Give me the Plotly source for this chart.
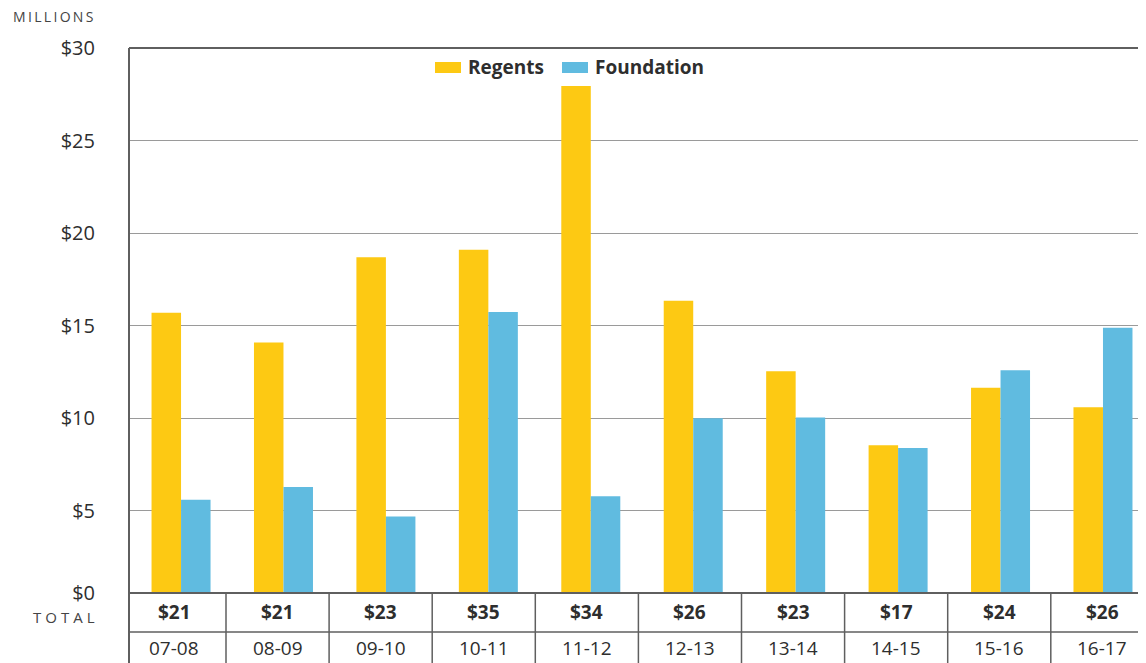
import plotly.graph_objects as go

# ---- data ----
years = ["07-08", "08-09", "09-10", "10-11", "11-12", "12-13", "13-14", "14-15", "15-16", "16-17"]
regents = [15.7, 14.1, 18.7, 19.1, 27.95, 16.35, 12.55, 8.55, 11.65, 10.6]
foundation = [5.6, 6.3, 4.7, 15.75, 5.8, 10.0, 10.05, 8.4, 12.6, 14.9]
totals = ["$21", "$21", "$23", "$35", "$34", "$26", "$23", "$17", "$24", "$26"]
ytick_vals = [0.57, 5, 10, 15, 20, 25, 30]
ytick_text = ["$0", "$5", "$10", "$15", "$20", "$25", "$30"]

REGENTS_C = "#FDC913"
FOUND_C = "#60BBE0"
TEXT_C = "#2e2e2e"
FONT = "Open Sans, Noto Sans, sans-serif"

# page body has an 8px margin; lay out in window pixels and shift
OFF = 8
WIN_W, WIN_H = 1146, 663
W, H = WIN_W - OFF, WIN_H - OFF
PLOT_L, PLOT_T, PLOT_B = 129, 48, 593          # window pixels
L = PLOT_L - OFF
T = PLOT_T - OFF
B = WIN_H - PLOT_B
R = 0
PW, PH = W - L - R, H - T - B

def px_x(px):
    return (px - PLOT_L) / PW

def px_y(py):
    return (PLOT_B - py) / PH

x_idx = list(range(len(years)))

fig = go.Figure()
fig.add_trace(go.Bar(x=x_idx, y=regents, name="Regents", marker_color=REGENTS_C,
                     marker_line_width=0))
fig.add_trace(go.Bar(x=x_idx, y=foundation, name="Foundation", marker_color=FOUND_C,
                     marker_line_width=0))

shapes = []
annotations = []
LINE_C = "#5f5f5f"

shapes.append(dict(type="line", xref="paper", yref="paper", x0=0, x1=1, y0=1, y1=1,
                   line=dict(color=LINE_C, width=2)))
shapes.append(dict(type="line", xref="paper", yref="paper", x0=0, x1=0, y0=1, y1=px_y(WIN_H + 2),
                   line=dict(color=LINE_C, width=2)))
shapes.append(dict(type="line", xref="paper", yref="paper", x0=0, x1=1, y0=0, y1=0,
                   line=dict(color=LINE_C, width=2)))
shapes.append(dict(type="line", xref="paper", yref="paper", x0=0, x1=1,
                   y0=px_y(632), y1=px_y(632), line=dict(color=LINE_C, width=1.5)))

CELL = 103.1
FIRST = 226
for k in range(len(years) - 1):
    xp = px_x(FIRST + CELL * k)
    shapes.append(dict(type="line", xref="paper", yref="paper", x0=xp, x1=xp,
                       y0=0, y1=px_y(WIN_H + 2), line=dict(color=LINE_C, width=1.5)))

for k, (yr, tot) in enumerate(zip(years, totals)):
    cx = px_x(FIRST + CELL * (k - 0.5))
    annotations.append(dict(xref="paper", yref="paper", x=cx, y=px_y(612), text="<b>" + tot + "</b>",
                            showarrow=False, xanchor="center", yanchor="middle",
                            font=dict(family=FONT, size=19, color=TEXT_C)))
    annotations.append(dict(xref="paper", yref="paper", x=cx, y=px_y(648), text=yr,
                            showarrow=False, xanchor="center", yanchor="middle",
                            font=dict(family=FONT, size=19, color=TEXT_C)))

thin = "\u2009"
annotations.append(dict(xref="paper", yref="paper", x=px_x(97), y=px_y(617),
                        text=(thin + "\u200a").join("TOTAL"), showarrow=False,
                        xanchor="right", yanchor="middle",
                        font=dict(family=FONT, size=15, color="#444")))
annotations.append(dict(xref="paper", yref="paper", x=px_x(11), y=px_y(17),
                        text=thin.join("MILLIONS"), showarrow=False, xanchor="left", yanchor="middle",
                        font=dict(family=FONT, size=14, color="#444")))

for (x0, x1, tx, name, col) in [(435, 461, 466, "Regents", REGENTS_C),
                                 (562, 588, 593, "Foundation", FOUND_C)]:
    shapes.append(dict(type="rect", xref="paper", yref="paper", x0=px_x(x0), x1=px_x(x1),
                       y0=px_y(73), y1=px_y(62), fillcolor=col, line=dict(width=0)))
    annotations.append(dict(xref="paper", yref="paper", x=px_x(tx), y=px_y(67),
                            text="<b>" + name + "</b>", showarrow=False,
                            xanchor="left", yanchor="middle",
                            font=dict(family=FONT, size=19, color=TEXT_C)))

fig.update_layout(
    width=W, height=H,
    margin=dict(l=L, r=R, t=T, b=B, pad=0),
    paper_bgcolor="white", plot_bgcolor="white",
    barmode="group", bargap=0.424, bargroupgap=0,
    showlegend=False,
    font=dict(family=FONT, color=TEXT_C),
    shapes=shapes, annotations=annotations,
    xaxis=dict(range=[-0.508, 9.42], showticklabels=False, showgrid=False,
               zeroline=False, showline=False, ticks=""),
    yaxis=dict(range=[0.57, 30], tickvals=ytick_vals, ticktext=ytick_text,
               showgrid=True, gridcolor="#9a9a9a", gridwidth=1, zeroline=False,
               showline=False, ticks="", ticklabelstandoff=33,
               tickfont=dict(family=FONT, size=20, color=TEXT_C)),
)

fig.write_html("out.html")
